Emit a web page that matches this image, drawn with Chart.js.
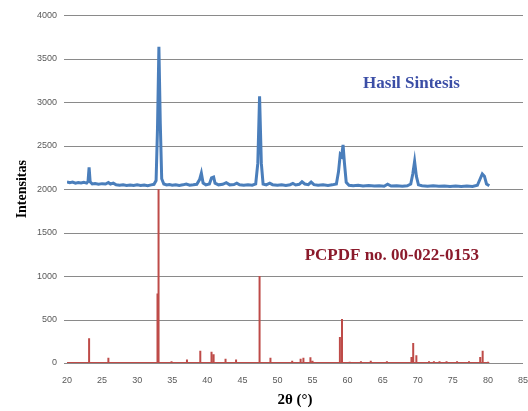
<!DOCTYPE html>
<html>
<head>
<meta charset="utf-8">
<script src="https://cdn.jsdelivr.net/npm/chart.js@4.4.1/dist/chart.umd.min.js"></script>
<style>
  html, body { margin: 0; padding: 0; background: #fff; overflow: hidden; }
  #wrap { width: 528px; height: 411px; position: relative; }
  #xrdChart { display: block; }
</style>
</head>
<body>
<div id="wrap"><canvas id="xrdChart"></canvas></div>
<script>
// Pola XRD hasil sintesis (2θ, intensitas)
const sintesisTheta = [
  20.0, 20.4, 20.8, 21.2, 21.6, 22.0, 22.4, 22.8, 23.0, 23.15, 23.3, 23.6, 24.0, 24.5, 25.0, 25.5, 25.9, 26.2, 26.6,
  27.0, 27.5, 28.0, 28.5, 29.0, 29.5, 30.0, 30.5, 31.0, 31.5, 32.0, 32.4, 32.7, 32.9, 33.1, 33.3, 33.5, 33.8,
  34.2, 34.6, 35.0, 35.5, 36.0, 36.5, 37.0, 37.5, 38.0, 38.5, 38.9, 39.15, 39.4, 39.8, 40.3, 40.6, 40.9, 41.1,
  41.6, 42.2, 42.7, 43.2, 43.8, 44.2, 44.6, 45.2, 45.8, 46.4, 46.9, 47.2, 47.45, 47.7, 47.95, 48.4, 48.9, 49.3,
  50.0, 50.6, 51.2, 51.8, 52.2, 52.6, 53.1, 53.5, 53.9, 54.4, 54.8, 55.2, 55.8, 56.5, 57.2, 57.8, 58.4, 58.7,
  58.95, 59.15, 59.35, 59.55, 59.8, 60.2, 60.8, 61.5, 62.2, 63.0, 63.8, 64.5, 65.2, 65.7, 66.2, 67.0, 67.8,
  68.5, 69.0, 69.3, 69.55, 69.8, 70.1, 70.6, 71.4, 72.2, 73.0, 73.8, 74.6, 75.4, 76.2, 77.0, 77.8, 78.5,
  78.9, 79.2, 79.5, 79.8, 80.2
];
const sintesisInt = [
  2085, 2075, 2082, 2070, 2078, 2072, 2080, 2070, 2090, 2250, 2085, 2060, 2066, 2058, 2064, 2060, 2078, 2060, 2070,
  2050, 2046, 2050, 2044, 2048, 2042, 2050, 2044, 2048, 2040, 2050, 2056, 2100, 2700, 3640, 2750, 2120, 2060,
  2048, 2054, 2046, 2052, 2044, 2050, 2060, 2046, 2050, 2056, 2110, 2185, 2070, 2050, 2060, 2130, 2140, 2070,
  2050, 2056, 2075, 2050, 2054, 2070, 2050, 2046, 2052, 2046, 2060, 2300, 3070, 2300, 2060, 2050, 2070, 2052,
  2046, 2050, 2044, 2052, 2066, 2048, 2056, 2085, 2060, 2052, 2082, 2052, 2046, 2050, 2044, 2050, 2060, 2200,
  2400, 2380, 2510, 2300, 2080, 2046, 2040, 2044, 2036, 2042, 2036, 2040, 2034, 2058, 2036, 2040, 2034,
  2040, 2060, 2180, 2320, 2150, 2050, 2040, 2034, 2040, 2034, 2038, 2032, 2038, 2032, 2036, 2032, 2045,
  2120, 2175, 2150, 2060, 2040
];

// Pola referensi PCPDF 00-022-0153 (posisi puncak, intensitas)
const refTheta = [
  23.15, 25.9, 32.9, 33.05, 34.9, 37.1, 39.0, 40.6, 40.9, 42.6, 44.1, 47.45, 49.0, 52.1, 53.3, 53.7, 54.7, 55.0,
  58.9, 59.2, 60.3, 61.9, 63.3, 65.6, 69.1, 69.35, 69.8, 71.6, 72.3, 73.1, 74.1, 75.6, 77.3, 78.9, 79.25, 80.0
];
const refInt = [
  285, 60, 800, 2000, 20, 40, 140, 130, 100, 50, 40, 1000, 60, 25, 50, 60, 65, 25,
  300, 505, 15, 20, 25, 20, 70, 230, 90, 20, 20, 20, 20, 20, 20, 70, 140, 15
];
const refStart = 20;
const refEnd = 80.2;

// Sumbu
const xMin = 20, xMax = 85, xStep = 5;
const yMin = 0, yMax = 4000, yStep = 500;

// garis stik untuk referensi: naik-turun di tiap puncak
const refLine = [{ x: refStart, y: 0 }];
refTheta.forEach((t, i) => {
  refLine.push({ x: t, y: 0 }, { x: t, y: refInt[i] }, { x: t, y: 0 });
});
refLine.push({ x: refEnd, y: 0 });

const sintesisLine = sintesisTheta.map((t, i) => ({ x: t, y: sintesisInt[i] }));

// Garis grid horizontal (gaya Excel), digambar dari tick sumbu y
const gridPlugin = {
  id: 'hGrid',
  beforeDatasetsDraw: (chart, args, opts) => {
    const ctx = chart.ctx;
    const area = chart.chartArea;
    const yScale = chart.scales.y;
    ctx.save();
    ctx.strokeStyle = opts.color;
    ctx.lineWidth = 1;
    yScale.ticks.forEach(t => {
      const py = Math.round(yScale.getPixelForValue(t.value)) + 0.5;
      ctx.beginPath();
      ctx.moveTo(area.left - 3, py);
      ctx.lineTo(area.right, py);
      ctx.stroke();
    });
    ctx.restore();
  }
};

// Plugin untuk label teks di dalam area grafik
const labelPlugin = {
  id: 'seriesLabels',
  afterDatasetsDraw: (chart, args, opts) => {
    const ctx = chart.ctx;
    ctx.save();
    ctx.textAlign = 'center';
    ctx.textBaseline = 'middle';
    (opts.items || []).forEach(item => {
      ctx.fillStyle = item.color;
      ctx.font = item.font;
      ctx.fillText(item.text, chart.scales.x.getPixelForValue(item.x), chart.scales.y.getPixelForValue(item.y));
    });
    ctx.restore();
  }
};

new Chart(document.getElementById('xrdChart'), {
  type: 'line',
  data: {
    datasets: [
      {
        label: 'PCPDF no. 00-022-0153',
        data: refLine,
        borderColor: '#be4b48',
        borderWidth: 2,
        pointRadius: 0,
        tension: 0,
        fill: false
      },
      {
        label: 'Hasil Sintesis',
        data: sintesisLine,
        borderColor: '#4a7ebb',
        borderWidth: 3,
        pointRadius: 0,
        tension: 0,
        fill: false
      }
    ]
  },
  options: {
    responsive: true,
    maintainAspectRatio: false,
    animation: false,
    layout: { padding: { top: 14, right: 0, left: 0, bottom: 0 } },
    scales: {
      x: {
        type: 'linear',
        min: xMin,
        max: xMax,
        afterFit: (scale) => { scale.height = 48; },
        ticks: {
          stepSize: xStep,
          color: '#595959',
          font: { family: 'Liberation Sans', size: 9 },
          padding: 0,
          callback: v => String(v)
        },
        grid: { display: false, drawTicks: true, tickLength: 12 },
        border: { display: true, color: '#8a8a8a', width: 1 },
        title: {
          display: true,
          text: '2θ (°)',
          color: '#000',
          font: { family: 'Liberation Serif', size: 15, weight: 'bold' },
          padding: { top: 0, bottom: 2 }
        }
      },
      y: {
        min: yMin,
        max: yMax,
        afterFit: (scale) => { scale.width = 67; },
        ticks: {
          stepSize: yStep,
          color: '#595959',
          font: { family: 'Liberation Sans', size: 9 },
          padding: 10,
          callback: v => String(v)
        },
        grid: { display: false, drawTicks: false },
        border: { display: false },
        title: {
          display: true,
          text: 'Intensitas',
          color: '#000',
          font: { family: 'Liberation Serif', size: 14, weight: 'bold' },
          padding: { top: 14, bottom: 0 }
        }
      }
    },
    plugins: {
      legend: { display: false },
      tooltip: { enabled: false },
      hGrid: { color: '#8a8a8a' },
      seriesLabels: {
        items: [
          { text: 'Hasil Sintesis', x: 69.1, y: 3220, color: '#3b4ea6', font: 'bold 17px "Liberation Serif"' },
          { text: 'PCPDF no. 00-022-0153', x: 66.3, y: 1240, color: '#8b1a2b', font: 'bold 17px "Liberation Serif"' }
        ]
      }
    }
  },
  plugins: [gridPlugin, labelPlugin]
});
</script>
</body>
</html>
